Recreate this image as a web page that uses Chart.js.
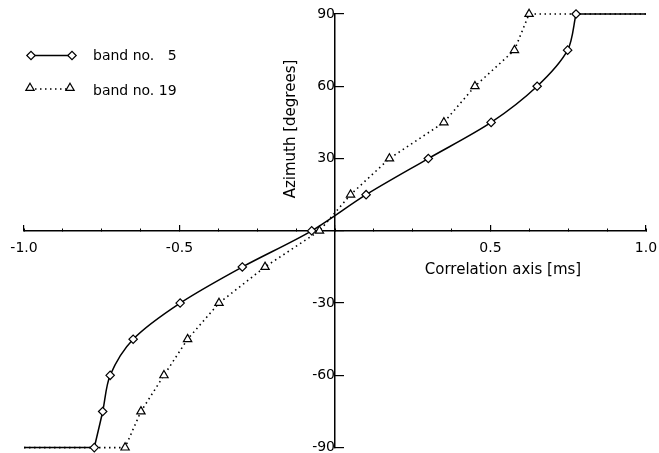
<!DOCTYPE html>
<html>
<head>
<meta charset="utf-8">
<script src="https://cdn.jsdelivr.net/npm/chart.js@4.4.1/dist/chart.umd.min.js"></script>
<style>
  html, body { margin: 0; padding: 0; background: #fff; }
</style>
</head>
<body>
<canvas id="azimuthChart" width="659" height="453"></canvas>
<script>
// azimuth steps, same for both bands
const azimuth = [-90, -75, -60, -45, -30, -15, 0, 15, 30, 45, 60, 75, 90];
const band5Lag = [-0.774, -0.747, -0.723, -0.649, -0.498, -0.298, -0.075, 0.100, 0.300, 0.502, 0.650, 0.748, 0.775];
const band19Lag = [-0.675, -0.624, -0.550, -0.474, -0.373, -0.225, -0.050, 0.050, 0.175, 0.350, 0.450, 0.577, 0.624];
const bandNumbers = [5, 19];
const xTickLabels = ["-1.0", "-0.5", "0.5", "1.0"];
const yTickLabels = [-90, -60, -30, 30, 60, 90];
const xRange = [-1, 1];
const yRange = [-90, 90];

const FONT = "'DejaVu Sans', 'Liberation Sans', sans-serif";
Chart.defaults.font.family = FONT;
Chart.defaults.color = "#000";

function toPoints(xs, ys) {
  return xs.map((x, i) => ({ x: x, y: ys[i] }));
}

const last = azimuth.length - 1;
// flat parts outside the measured range
const band5Low = [{ x: xRange[0], y: azimuth[0] }, { x: band5Lag[0], y: azimuth[0] }];
const band5High = [{ x: band5Lag[last], y: azimuth[last] }, { x: xRange[1], y: azimuth[last] }];
const band19Data = [{ x: xRange[0], y: azimuth[0] }]
  .concat(toPoints(band19Lag, azimuth))
  .concat([{ x: xRange[1], y: azimuth[last] }]);

const legendText = bandNumbers.map(n => "band no. " + String(n).padStart(2, "\u2007"));

// legend with line + two markers, and the two axis titles
const decorPlugin = {
  id: "decor",
  afterDraw(chart) {
    const ctx = chart.ctx;
    const drawPoint = Chart.helpers.drawPoint;
    ctx.save();
    ctx.strokeStyle = "#000";
    ctx.fillStyle = "#fff";

    // row 1: solid with diamonds
    ctx.lineWidth = 1.5;
    ctx.setLineDash([]);
    ctx.beginPath();
    ctx.moveTo(31, 55.5);
    ctx.lineTo(72, 55.5);
    ctx.stroke();
    ctx.lineWidth = 1.2;
    [31, 72].forEach(x => drawPoint(ctx, { pointStyle: "rectRot", radius: 4.2, borderWidth: 1.2, rotation: 0 }, x, 55.5));

    // row 2: dotted with triangles
    ctx.lineWidth = 1.6;
    ctx.setLineDash([1.5, 3.5]);
    ctx.beginPath();
    ctx.moveTo(30, 89);
    ctx.lineTo(70, 89);
    ctx.stroke();
    ctx.setLineDash([]);
    ctx.lineWidth = 1.2;
    [30, 70].forEach(x => drawPoint(ctx, { pointStyle: "triangle", radius: 4.8, borderWidth: 1.2, rotation: 0 }, x, 88));

    ctx.fillStyle = "#000";
    ctx.font = "14px " + FONT;
    ctx.textAlign = "left";
    ctx.textBaseline = "middle";
    ctx.fillText(legendText[0], 93, 56);
    ctx.fillText(legendText[1], 93, 91);

    // axis titles
    ctx.font = "15px " + FONT;
    ctx.textAlign = "center";
    ctx.fillText("Correlation axis [ms]", 503, 270);
    ctx.translate(291, 129);
    ctx.rotate(-Math.PI / 2);
    ctx.fillText("Azimuth [degrees]", 0, 0);
    ctx.restore();
  }
};

function noPadding(scale) {
  scale.paddingTop = 0;
  scale.paddingBottom = 0;
  scale.paddingLeft = 0;
  scale.paddingRight = 0;
}

const ctx = document.getElementById("azimuthChart").getContext("2d");
const chart = new Chart(ctx, {
  type: "scatter",
  data: {
    datasets: [
      {
        label: legendText[0],
        data: toPoints(band5Lag, azimuth),
        showLine: true,
        borderColor: "#000",
        borderWidth: 1.5,
        tension: 0.3,
        pointStyle: "rectRot",
        pointRadius: 4.2,
        pointBackgroundColor: "#fff",
        pointBorderColor: "#000",
        pointBorderWidth: 1.2,
        clip: false,
        order: 0
      },
      {
        data: band5Low,
        showLine: true,
        borderColor: "#000",
        borderWidth: 1.5,
        pointRadius: 0,
        clip: false,
        order: 2
      },
      {
        data: band5High,
        showLine: true,
        borderColor: "#000",
        borderWidth: 1.5,
        pointRadius: 0,
        clip: false,
        order: 2
      },
      {
        label: legendText[1],
        data: band19Data,
        showLine: true,
        borderColor: "#000",
        borderWidth: 1.6,
        borderDash: [1.5, 3.5],
        tension: 0,
        pointStyle: "triangle",
        pointRadius: c => (c.dataIndex === 0 || c.dataIndex === band19Data.length - 1) ? 0 : 4.8,
        pointBackgroundColor: "#fff",
        pointBorderColor: "#000",
        pointBorderWidth: 1.2,
        clip: false,
        order: 1
      }
    ]
  },
  options: {
    responsive: false,
    animation: false,
    events: [],
    layout: { padding: { left: 24, right: 13, top: 14, bottom: 3 } },
    plugins: {
      legend: { display: false },
      tooltip: { enabled: false }
    },
    scales: {
      x: {
        type: "linear",
        min: xRange[0],
        max: xRange[1],
        position: { y: 0 },
        afterFit: noPadding,
        border: { display: true, color: "#000", width: 1.5 },
        grid: { drawOnChartArea: false, drawTicks: true, tickLength: -3, color: "#000", lineWidth: 1 },
        ticks: {
          stepSize: 0.125,
          autoSkip: false,
          maxRotation: 0,
          padding: 12,
          font: { size: 14 },
          callback: v => {
            const s = Number(v).toFixed(1);
            return (xTickLabels.includes(s) && Math.abs(v * 2 - Math.round(v * 2)) < 1e-6) ? s : "";
          }
        }
      },
      x2: {
        type: "linear",
        axis: "x",
        min: xRange[0],
        max: xRange[1],
        position: { y: 0 },
        afterFit: noPadding,
        border: { display: false },
        grid: { drawOnChartArea: false, drawTicks: true, tickLength: -6, color: "#000", lineWidth: 1.2 },
        ticks: { stepSize: 0.5, callback: () => "" }
      },
      y: {
        type: "linear",
        min: yRange[0],
        max: yRange[1],
        position: { x: 0 },
        afterFit: noPadding,
        border: { display: true, color: "#000", width: 1.5 },
        grid: { drawOnChartArea: false, drawTicks: true, tickLength: -10, color: "#000", lineWidth: 1.2 },
        ticks: {
          stepSize: 30,
          autoSkip: false,
          padding: 16,
          font: { size: 14 },
          callback: v => yTickLabels.includes(v) ? String(v) : ""
        }
      }
    }
  },
  plugins: [decorPlugin]
});
</script>
</body>
</html>
